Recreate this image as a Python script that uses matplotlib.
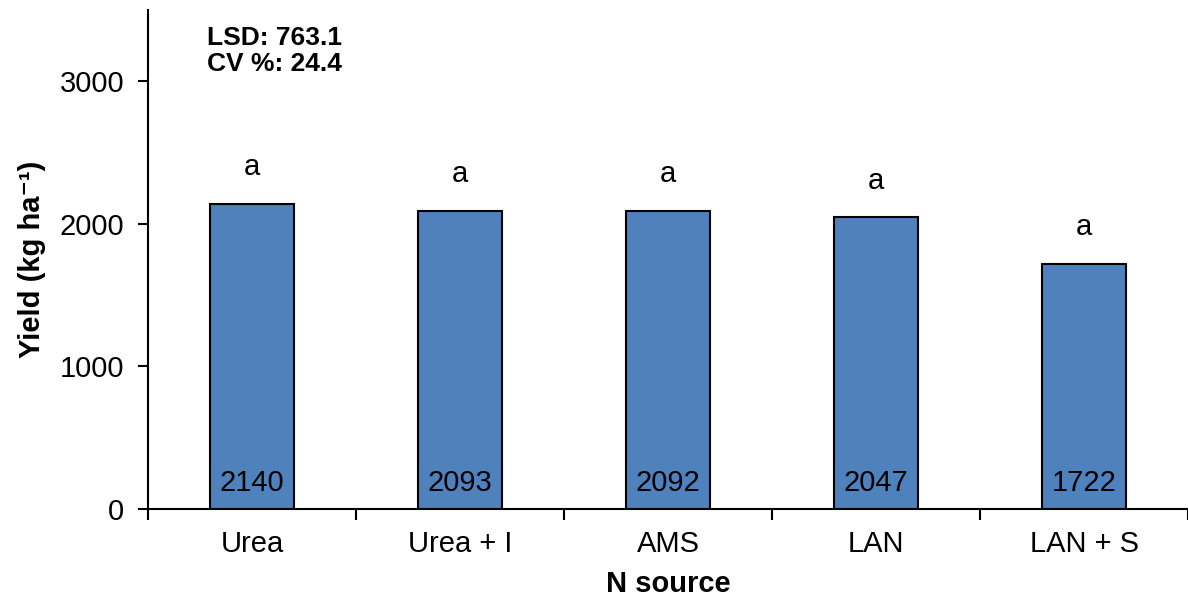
import numpy as np
import matplotlib.pyplot as plt

# N source treatments and mean yields
sources = ['Urea', 'Urea + I', 'AMS', 'LAN', 'LAN + S']
yields = [2140, 2093, 2092, 2047, 1722]
letters = ['a', 'a', 'a', 'a', 'a']
lsd = 763.1
cv = 24.4

plt.rcParams['font.family'] = ['Liberation Sans', 'DejaVu Sans']

fig = plt.figure(figsize=(11.88, 5.96), dpi=100)
ax = fig.add_axes([0.1246, 0.146, 0.8754, 0.837])

x = np.arange(len(sources))
bars = ax.bar(x, yields, width=0.4, color='#4F81BD', edgecolor='black', linewidth=1.5, zorder=2)

for xi, v, l in zip(x, yields, letters):
    ax.text(xi, 125, str(v), ha='center', va='baseline', fontsize=21)
    ax.text(xi, v + 200, l, ha='center', va='baseline', fontsize=21)

ax.text(0.057, 0.968, 'LSD: %.1f\nCV %%: %.1f' % (lsd, cv), transform=ax.transAxes,
        ha='left', va='top', fontsize=19, fontweight='bold', linespacing=1.1)

ax.set_xlim(-0.5, len(sources) - 0.5)
ax.set_ylim(0, 3500)
ax.set_yticks([0, 1000, 2000, 3000])
ax.set_xticks(x)
ax.set_xticklabels(sources)
ax.set_xticks(np.arange(-0.5, len(sources)), minor=True)
ax.tick_params(axis='x', which='major', length=0, labelsize=21, pad=15)
ax.tick_params(axis='x', which='minor', length=8, width=1.5, direction='out')
ax.tick_params(axis='y', length=7, width=1.5, labelsize=21, pad=10)

for s in ['top', 'right']:
    ax.spines[s].set_visible(False)
for s in ['left', 'bottom']:
    ax.spines[s].set_linewidth(1.5)

ax.set_xlabel('N source', fontsize=21, fontweight='bold', labelpad=9)
ax.set_ylabel('Yield (kg ha⁻¹)', fontsize=21, fontweight='bold', labelpad=10)

fig.savefig('out.png', dpi=100)
